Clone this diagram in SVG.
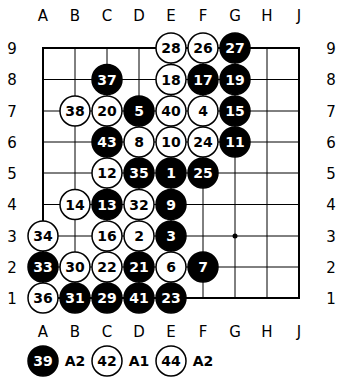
<svg xmlns="http://www.w3.org/2000/svg" width="337" height="377" viewBox="0 0 337 377">
<style>
.bg{fill:#fff}
.g{stroke:#000;stroke-width:1;fill:none}
.edge{stroke:#000;stroke-width:2;fill:none}
.w circle{fill:#fff;stroke:#000;stroke-width:1.5}
.b circle{fill:#000;stroke:#000;stroke-width:1.5}
.w text,.b text{font-family:"DejaVu Sans",Verdana,sans-serif;font-weight:bold;font-size:14px;text-anchor:middle}
.w text{fill:#000}
.b text{fill:#fff}
.lbl{font-family:"DejaVu Sans",Verdana,sans-serif;font-size:15px;text-anchor:middle;fill:#000}
.mv{font-family:"DejaVu Sans",Verdana,sans-serif;font-weight:bold;font-size:14px;text-anchor:middle;fill:#000}
</style>
<rect class="bg" width="337" height="377"/>
<g id="connectors">
<path class="g" d="M43 79.5H299M43 111H299M43 142H299M43 173H299M43 204.5H299M43 236H299M43 267H299M75 48V298M107 48V298M139 48V298M171 48V298M203 48V298M235 48V298M267 48V298"/>
<rect class="edge" x="43" y="48" width="256" height="250"/>
<circle cx="235" cy="236" r="2.5" fill="#000"/>
</g>
<g id="labels">
<text class="lbl" x="43" y="20.5">A</text><text class="lbl" x="75" y="20.5">B</text><text class="lbl" x="107" y="20.5">C</text><text class="lbl" x="139" y="20.5">D</text><text class="lbl" x="171" y="20.5">E</text><text class="lbl" x="203" y="20.5">F</text><text class="lbl" x="235" y="20.5">G</text><text class="lbl" x="267" y="20.5">H</text><text class="lbl" x="299" y="20.5">J</text>
<text class="lbl" x="43" y="337">A</text><text class="lbl" x="75" y="337">B</text><text class="lbl" x="107" y="337">C</text><text class="lbl" x="139" y="337">D</text><text class="lbl" x="171" y="337">E</text><text class="lbl" x="203" y="337">F</text><text class="lbl" x="235" y="337">G</text><text class="lbl" x="267" y="337">H</text><text class="lbl" x="299" y="337">J</text>
<text class="lbl" x="12" y="53.5">9</text><text class="lbl" x="12" y="85">8</text><text class="lbl" x="12" y="116.5">7</text><text class="lbl" x="12" y="147.5">6</text><text class="lbl" x="12" y="178.5">5</text><text class="lbl" x="12" y="210">4</text><text class="lbl" x="12" y="241.5">3</text><text class="lbl" x="12" y="272.5">2</text><text class="lbl" x="12" y="303.5">1</text>
<text class="lbl" x="331" y="53.5">9</text><text class="lbl" x="331" y="85">8</text><text class="lbl" x="331" y="116.5">7</text><text class="lbl" x="331" y="147.5">6</text><text class="lbl" x="331" y="178.5">5</text><text class="lbl" x="331" y="210">4</text><text class="lbl" x="331" y="241.5">3</text><text class="lbl" x="331" y="272.5">2</text><text class="lbl" x="331" y="303.5">1</text>
</g>
<g id="E9" class="w"><circle cx="171" cy="48" r="15"/><text x="171" y="53">28</text></g>
<g id="F9" class="w"><circle cx="203" cy="48" r="15"/><text x="203" y="53">26</text></g>
<g id="G9" class="b"><circle cx="235" cy="48" r="15"/><text x="235" y="53">27</text></g>
<g id="C8" class="b"><circle cx="107" cy="79.5" r="15"/><text x="107" y="84.5">37</text></g>
<g id="E8" class="w"><circle cx="171" cy="79.5" r="15"/><text x="171" y="84.5">18</text></g>
<g id="F8" class="b"><circle cx="203" cy="79.5" r="15"/><text x="203" y="84.5">17</text></g>
<g id="G8" class="b"><circle cx="235" cy="79.5" r="15"/><text x="235" y="84.5">19</text></g>
<g id="B7" class="w"><circle cx="75" cy="111" r="15"/><text x="75" y="116">38</text></g>
<g id="C7" class="w"><circle cx="107" cy="111" r="15"/><text x="107" y="116">20</text></g>
<g id="D7" class="b"><circle cx="139" cy="111" r="15"/><text x="139" y="116">5</text></g>
<g id="E7" class="w"><circle cx="171" cy="111" r="15"/><text x="171" y="116">40</text></g>
<g id="F7" class="w"><circle cx="203" cy="111" r="15"/><text x="203" y="116">4</text></g>
<g id="G7" class="b"><circle cx="235" cy="111" r="15"/><text x="235" y="116">15</text></g>
<g id="C6" class="b"><circle cx="107" cy="142" r="15"/><text x="107" y="147">43</text></g>
<g id="D6" class="w"><circle cx="139" cy="142" r="15"/><text x="139" y="147">8</text></g>
<g id="E6" class="w"><circle cx="171" cy="142" r="15"/><text x="171" y="147">10</text></g>
<g id="F6" class="w"><circle cx="203" cy="142" r="15"/><text x="203" y="147">24</text></g>
<g id="G6" class="b"><circle cx="235" cy="142" r="15"/><text x="235" y="147">11</text></g>
<g id="C5" class="w"><circle cx="107" cy="173" r="15"/><text x="107" y="178">12</text></g>
<g id="D5" class="b"><circle cx="139" cy="173" r="15"/><text x="139" y="178">35</text></g>
<g id="E5" class="b"><circle cx="171" cy="173" r="15"/><text x="171" y="178">1</text></g>
<g id="F5" class="b"><circle cx="203" cy="173" r="15"/><text x="203" y="178">25</text></g>
<g id="B4" class="w"><circle cx="75" cy="204.5" r="15"/><text x="75" y="209.5">14</text></g>
<g id="C4" class="b"><circle cx="107" cy="204.5" r="15"/><text x="107" y="209.5">13</text></g>
<g id="D4" class="w"><circle cx="139" cy="204.5" r="15"/><text x="139" y="209.5">32</text></g>
<g id="E4" class="b"><circle cx="171" cy="204.5" r="15"/><text x="171" y="209.5">9</text></g>
<g id="A3" class="w"><circle cx="43" cy="236" r="15"/><text x="43" y="241">34</text></g>
<g id="C3" class="w"><circle cx="107" cy="236" r="15"/><text x="107" y="241">16</text></g>
<g id="D3" class="w"><circle cx="139" cy="236" r="15"/><text x="139" y="241">2</text></g>
<g id="E3" class="b"><circle cx="171" cy="236" r="15"/><text x="171" y="241">3</text></g>
<g id="A2" class="b"><circle cx="43" cy="267" r="15"/><text x="43" y="272">33</text></g>
<g id="B2" class="w"><circle cx="75" cy="267" r="15"/><text x="75" y="272">30</text></g>
<g id="C2" class="w"><circle cx="107" cy="267" r="15"/><text x="107" y="272">22</text></g>
<g id="D2" class="b"><circle cx="139" cy="267" r="15"/><text x="139" y="272">21</text></g>
<g id="E2" class="w"><circle cx="171" cy="267" r="15"/><text x="171" y="272">6</text></g>
<g id="F2" class="b"><circle cx="203" cy="267" r="15"/><text x="203" y="272">7</text></g>
<g id="A1" class="w"><circle cx="43" cy="298" r="15"/><text x="43" y="303">36</text></g>
<g id="B1" class="b"><circle cx="75" cy="298" r="15"/><text x="75" y="303">31</text></g>
<g id="C1" class="b"><circle cx="107" cy="298" r="15"/><text x="107" y="303">29</text></g>
<g id="D1" class="b"><circle cx="139" cy="298" r="15"/><text x="139" y="303">41</text></g>
<g id="E1" class="b"><circle cx="171" cy="298" r="15"/><text x="171" y="303">23</text></g>
<g id="m39" class="b"><circle cx="43" cy="361" r="15"/><text x="43" y="366">39</text></g>
<text class="mv" x="75" y="366">A2</text>
<g id="m42" class="w"><circle cx="107" cy="361" r="15"/><text x="107" y="366">42</text></g>
<text class="mv" x="139" y="366">A1</text>
<g id="m44" class="w"><circle cx="171" cy="361" r="15"/><text x="171" y="366">44</text></g>
<text class="mv" x="203" y="366">A2</text>
</svg>
